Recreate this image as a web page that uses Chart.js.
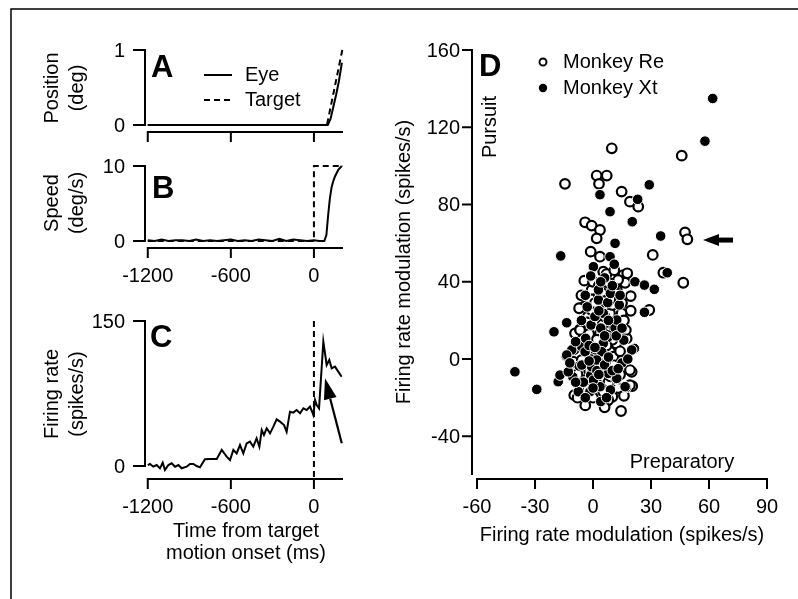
<!DOCTYPE html>
<html><head><meta charset="utf-8">
<script src="https://cdn.jsdelivr.net/npm/chart.js@4.4.0/dist/chart.umd.min.js"></script>
<style>
body{margin:0;background:#fff;width:798px;height:599px;overflow:hidden}
canvas{position:absolute;left:0;top:0}
</style>
</head><body>
<canvas id="cA" width="798" height="599"></canvas>
<canvas id="cB" width="798" height="599"></canvas>
<canvas id="cC" width="798" height="599"></canvas>
<canvas id="cD" width="798" height="599"></canvas>
<script>
// ---------- data ----------
const timeTicks = [-1200, -600, 0];
const posTicks = [0, 1];
const speedTicks = [0, 10];
const rateTicks = [0, 150];
const modXTicks = [-60, -30, 0, 30, 60, 90];
const modYTicks = [-40, 0, 40, 80, 120, 160];

const eyePosTime = [-1200, 100, 120, 140, 160, 180, 202];
const eyePos     = [0, 0, 0.08, 0.24, 0.4, 0.58, 0.83];
const tgtPosTime = [-1200, 94, 205];
const tgtPos     = [0, 0, 1.0];

const eyeSpdTime = [-1200,-1150,-1100,-1050,-1000,-950,-900,-850,-800,-750,-700,-650,-600,-550,-500,-450,-400,-350,-300,-250,-200,-150,-100,-50,0,40,75,90,104,116,128,140,152,176,201];
const eyeSpd     = [0.1,0,0.2,0,0.1,0.1,0,0.2,0,0.1,0,0.1,0.2,0,0.1,0,0.2,0.1,0,0.3,0,0.2,0.1,0,0.1,0,0,0.8,3.7,5.8,7.2,8.0,8.6,9.5,10];
const tgtSpdTime = [-1200, 0, 0, 210];
const tgtSpd     = [0, 0, 10, 10];

const rateTime = [-1200,-1184,-1160,-1136,-1112,-1092,-1076,-1051,-1027,-1003,-979,-955,-919,-895,-871,-847,-823,-787,-751,-702,-666,-630,-606,-582,-558,-534,-510,-486,-462,-438,-414,-394,-377,-361,-341,-317,-293,-269,-245,-216,-197,-173,-149,-125,-100,-76,-52,-28,-4,8,20,37,68,92,111,128,152,176,200];
const rate     = [1,2.1,-0.7,1.0,-2.4,3.4,-4.1,1.0,2.8,-0.7,1.0,-2.4,-0.7,2.1,2.1,0,-1.4,6.9,7.2,7.2,16.6,9.7,6.2,16.6,13.1,21.7,13.1,23.4,25.2,20,28.6,20,37.2,32.1,39,33.8,40.7,48.3,45.9,42.4,35.5,56.2,55.2,57.9,54.5,59.7,57.9,61.4,52.8,68.3,63.1,59.7,128.6,104.5,109.7,101,102.8,97.6,92.3];

const reX = [9.7,-14.5,1.9,7.1,3.1,14.8,19.1,23.4,45.9,-4.1,-0.7,3.6,1.9,47.6,48.8,30.9,-1.2,3.6,5.3,15.7,46.7,36.4,14.5,6.4,10,-9.7,-9.3,-6.7,-4.7,-7.2,-2.7,0.2,19.5,19.5,14.8,20,20.3,12.3,10,16.6,8.8,12.3,-8.4,-4.1,1.9,-1.6,0.2,8.8,13.1,3.6,-5,17.7,-4.5,7.9,11.4,-0.7,4.5,12.3,29.1,-0.7,2.8,8.8,14.8,-6.7,0.2,3.6,11.4,8.8,17.4,-1.6,1.9,8.8,-10.2,5.3,10.5,-5.8,7.9,19.1,19.1,10.5,5.3,-5,6.2,1.9,4,8,-2,2,6,10,-3,12,6,-8,0,3,7,-3,14,10,5,-2,16,0,-6,7,13,3,9,15,-3,6,11,-5,2,7,14,-8,0,4,9,13,-4,2,16,17,-10,1,11];
const reY = [109.1,90.7,95,95,90.7,86.7,81.5,78.9,105.3,70.8,69.1,66.8,62.5,65.6,62,53.9,55.6,53,45.2,43.5,39.5,44.7,-26.9,-22.6,-19.5,-18.7,13.3,15.3,27.1,26.3,21.9,34,32.6,25,-0.9,-6.6,-14,-3.6,0.4,39.5,39.2,35.8,-4.8,-10.9,-17.8,31.4,11.6,5.5,21.1,-0.5,-2.2,44.4,40.6,39.5,38.9,35.8,34.4,34,25.4,25.4,27.1,23.6,23.6,15,15,13.3,13.3,16.7,10.7,9,4.7,3.8,-1.4,-1.4,1.2,-0.5,-21.2,-13.5,-5.7,-3.1,-16.9,-12.6,-1.4,-7.4,-10,-12,-6,20,30,28,4,8,-25,-20,-20,-4,-6,-15,-8,10,18,13,20,40,33,44,41,38,31,29,19,22,17,8,10,7,4,-8,-2,2,-9,-15,-24,-13,-19,15,5,29,46];
const xtX = [61.9,57.9,29.1,3.6,23.1,8.8,20.3,35,11.4,-16.7,8.8,11,0.2,-1.2,21.7,26.6,31.7,38.4,-40.4,-29.1,-20.2,-13.6,-18,-17.1,-14,-10.5,-11,-5.8,-7.2,-7.1,-1,-1.2,-0.3,-1,-3.8,2.8,7.6,13.6,11.4,7.6,15.9,21.4,11.9,17.1,26.6,3.6,2.8,5.3,12.3,5.3,-13.6,-12.8,-5.8,-4.1,0.2,4.5,7.9,12.3,16.6,-1.6,-7.6,-0.7,1.9,20,2,6,9,-4,4,9,-3,6,14,1,-9,10,15,4,-2,-6,3,8,12,-2,6,1,-5,8,13,0,-9,10,4,-4,7,18,-12,3,15];
const xtY = [134.9,112.8,90.2,85.1,82.7,76.3,71.1,63.7,59.9,53.4,53,49.1,47.8,43,40,38.3,36.1,44.7,-6.6,-15.7,14.1,18.8,-11.7,-8.3,1.6,-9.2,4.7,6.4,-3.6,-16.1,0,-8.3,-12.3,17.6,10.7,30.6,29.2,28,16.2,11.2,9.8,5.5,-10.5,-14.7,24.2,-14.3,35.8,23.7,20.2,8.1,2.1,-6.6,-3.1,3.8,-10.9,3.8,-7.4,-10,-14.3,-16.9,-16.9,-4,-0.5,4.7,-6,-3,-16,-20,16,34,27,42,33,22,9,-6,-2,-22,7,20,25,20,12,-1,12,6,-12,1,-5,-15,-12,38,40,33,-20,0,-2,-8,16];

// ---------- helpers ----------
const FONT = '"Liberation Sans", Arial, Helvetica, sans-serif';
const zip = (xs, ys) => xs.map((x, i) => ({x: x, y: ys[i]}));

function axesPlugin(spec) {
  return {
    id: 'panelAxes',
    afterDraw(chart) {
      const ctx = chart.ctx, xs = chart.scales.x, ys = chart.scales.y, a = chart.chartArea;
      ctx.save();
      ctx.strokeStyle = '#000'; ctx.fillStyle = '#000'; ctx.lineWidth = 2; ctx.lineCap = 'butt';
      if (spec.frame) {
        ctx.lineWidth = 1.5;
        ctx.beginPath(); ctx.moveTo(11, 599); ctx.lineTo(11, 9); ctx.lineTo(798, 9); ctx.stroke();
        ctx.lineWidth = 2;
      }
      const ax = a.left, ay = a.bottom;
      ctx.beginPath();
      ctx.moveTo(ax, ys.getPixelForValue(spec.yFrom)); ctx.lineTo(ax, ys.getPixelForValue(spec.yTo) - 1);
      spec.yTicks.forEach(v => { const p = ys.getPixelForValue(v); ctx.moveTo(ax - spec.yTickLen, p); ctx.lineTo(ax + 1, p); });
      ctx.moveTo(xs.getPixelForValue(spec.xFrom), ay); ctx.lineTo(xs.getPixelForValue(spec.xTo), ay);
      spec.xTicks.forEach(v => { const p = xs.getPixelForValue(v); ctx.moveTo(p, ay - 1); ctx.lineTo(p, ay + 10); });
      ctx.stroke();
      ctx.font = '20px ' + FONT;
      ctx.textAlign = 'right'; ctx.textBaseline = 'middle';
      spec.yTicks.forEach(v => ctx.fillText(String(v), ax - spec.yLabelGap, ys.getPixelForValue(v) + 1));
      if (spec.xLabels) {
        ctx.textAlign = 'center';
        spec.xTicks.forEach(v => ctx.fillText(String(v), xs.getPixelForValue(v), ay + 28));
      }
      ctx.textAlign = 'center'; ctx.textBaseline = 'middle';
      spec.yTitle.forEach((t, i) => {
        ctx.save();
        ctx.translate(spec.yTitleX[i], spec.yTitleY);
        ctx.rotate(-Math.PI / 2);
        ctx.fillText(t, 0, 0);
        ctx.restore();
      });
      if (spec.xTitle) {
        spec.xTitle.forEach((t, i) => ctx.fillText(t, spec.xTitleX, spec.xTitleY[i]));
      }
      ctx.font = 'bold 31px ' + FONT;
      ctx.textAlign = 'left'; ctx.textBaseline = 'alphabetic';
      ctx.fillText(spec.letter, spec.letterX, spec.letterY);
      if (spec.extra) spec.extra(chart, ctx);
      ctx.restore();
    }
  };
}

function baseOptions(pad, xmin, xmax, ymin, ymax) {
  return {
    responsive: false, animation: false, events: [],
    devicePixelRatio: 1,
    layout: {padding: pad},
    plugins: {legend: {display: false}, tooltip: {enabled: false}},
    scales: {
      x: {type: 'linear', display: false, min: xmin, max: xmax},
      y: {type: 'linear', display: false, min: ymin, max: ymax}
    }
  };
}

function lineLegend(chart, ctx, x0, ys) {
  ctx.font = '20px ' + FONT;
  ctx.textAlign = 'left'; ctx.textBaseline = 'middle';
  chart.data.datasets.forEach((ds, i) => {
    ctx.save();
    ctx.lineWidth = 2;
    ctx.setLineDash(ds.borderDash || []);
    ctx.beginPath(); ctx.moveTo(x0, ys[i]); ctx.lineTo(x0 + 28, ys[i]); ctx.stroke();
    ctx.restore();
    ctx.fillText(ds.label, x0 + 41, ys[i]);
  });
}

const W = 798, H = 599;
// ---------- Panel A ----------
new Chart(document.getElementById('cA'), {
  type: 'line',
  data: {datasets: [
    {label: 'Eye', data: zip(eyePosTime, eyePos), borderColor: '#000', borderWidth: 2, pointRadius: 0, tension: 0, clip: false},
    {label: 'Target', data: zip(tgtPosTime, tgtPos), borderColor: '#000', borderWidth: 2, borderDash: [6, 4], pointRadius: 0, tension: 0, clip: false}
  ]},
  options: baseOptions({left: 145, top: 50, right: W - 343, bottom: H - 132}, -1220, 210, -0.093, 1),
  plugins: [axesPlugin({
    frame: true,
    yFrom: 0, yTo: 1, yTicks: posTicks, yTickLen: 12, yLabelGap: 20,
    xFrom: -1200, xTo: 210, xTicks: timeTicks, xLabels: false,
    yTitle: ['Position', '(deg)'], yTitleX: [52, 77], yTitleY: 88,
    letter: 'A', letterX: 151, letterY: 77,
    extra: (chart, ctx) => lineLegend(chart, ctx, 204, [75, 100])
  })]
});

// ---------- Panel B ----------
new Chart(document.getElementById('cB'), {
  type: 'line',
  data: {datasets: [
    {label: 'Eye', data: zip(eyeSpdTime, eyeSpd), borderColor: '#000', borderWidth: 2, pointRadius: 0, tension: 0, clip: false},
    {label: 'Target', data: zip(tgtSpdTime, tgtSpd), borderColor: '#000', borderWidth: 2, borderDash: [6, 4], pointRadius: 0, tension: 0, clip: false}
  ]},
  options: baseOptions({left: 145, top: 166, right: W - 343, bottom: H - 248}, -1220, 210, -0.93, 10),
  plugins: [axesPlugin({
    yFrom: 0, yTo: 10, yTicks: speedTicks, yTickLen: 12, yLabelGap: 20,
    xFrom: -1200, xTo: 210, xTicks: timeTicks, xLabels: true,
    yTitle: ['Speed', '(deg/s)'], yTitleX: [52, 77], yTitleY: 203,
    letter: 'B', letterX: 152, letterY: 198
  })]
});

// ---------- Panel C ----------
new Chart(document.getElementById('cC'), {
  type: 'line',
  data: {datasets: [
    {label: 'Firing rate', data: zip(rateTime, rate), borderColor: '#000', borderWidth: 2, pointRadius: 0, tension: 0, clip: false}
  ]},
  options: baseOptions({left: 145, top: 321, right: W - 343, bottom: H - 479}, -1220, 210, -13.45, 150),
  plugins: [axesPlugin({
    yFrom: 0, yTo: 150, yTicks: rateTicks, yTickLen: 12, yLabelGap: 20,
    xFrom: -1200, xTo: 210, xTicks: timeTicks, xLabels: true,
    yTitle: ['Firing rate', '(spikes/s)'], yTitleX: [52, 77], yTitleY: 394,
    xTitle: ['Time from target', 'motion onset (ms)'], xTitleX: 246, xTitleY: [531, 553],
    letter: 'C', letterX: 150, letterY: 347,
    extra: (chart, ctx) => {
      const xs = chart.scales.x, ys = chart.scales.y;
      ctx.save();
      ctx.lineWidth = 2; ctx.setLineDash([6, 4]);
      const x0 = xs.getPixelForValue(0);
      ctx.beginPath(); ctx.moveTo(x0, ys.getPixelForValue(150)); ctx.lineTo(x0, chart.chartArea.bottom); ctx.stroke();
      ctx.restore();
      const tx = xs.getPixelForValue(201), ty = ys.getPixelForValue(23.5);
      const hx = xs.getPixelForValue(80), hy = ys.getPixelForValue(90.7);
      const ang = Math.atan2(hy - ty, hx - tx), L = 21, hw = 6.5;
      const bx = hx - L * Math.cos(ang), by = hy - L * Math.sin(ang);
      ctx.lineWidth = 2.2;
      ctx.beginPath(); ctx.moveTo(tx, ty); ctx.lineTo(bx, by); ctx.stroke();
      ctx.beginPath(); ctx.moveTo(hx, hy);
      ctx.lineTo(bx + hw * Math.sin(ang), by - hw * Math.cos(ang));
      ctx.lineTo(bx - hw * Math.sin(ang), by + hw * Math.cos(ang));
      ctx.closePath(); ctx.fill();
    }
  })]
});

// ---------- Panel D ----------
new Chart(document.getElementById('cD'), {
  type: 'scatter',
  data: {datasets: [
    {label: 'Monkey Re', data: zip(reX, reY), pointRadius: 4.8, pointBorderWidth: 2.2, pointBorderColor: '#000', pointBackgroundColor: '#fff', order: 2, clip: false},
    {label: 'Monkey Xt', data: zip(xtX, xtY), pointRadius: 5.3, pointBorderWidth: 1, pointBorderColor: '#fff', pointBackgroundColor: '#000', order: 1, clip: false}
  ]},
  options: baseOptions({left: 472, top: 50, right: W - 767, bottom: H - 479}, -62.6, 90, -62.1, 160),
  plugins: [axesPlugin({
    yFrom: -60, yTo: 160, yTicks: modYTicks, yTickLen: 10, yLabelGap: 12,
    xFrom: -60, xTo: 90, xTicks: modXTicks, xLabels: true,
    yTitle: ['Firing rate modulation (spikes/s)'], yTitleX: [404], yTitleY: 262,
    xTitle: ['Firing rate modulation (spikes/s)'], xTitleX: 622, xTitleY: [535],
    letter: 'D', letterX: 479, letterY: 76,
    extra: (chart, ctx) => {
      const xs = chart.scales.x, ys = chart.scales.y;
      ctx.font = '20px ' + FONT;
      ctx.textAlign = 'left'; ctx.textBaseline = 'middle';
      const lys = [62, 88];
      chart.data.datasets.forEach((ds, i) => {
        ctx.beginPath(); ctx.arc(543, lys[i], i === 0 ? 3.5 : 4.2, 0, Math.PI * 2);
        if (i === 0) { ctx.lineWidth = 1.9; ctx.stroke(); } else { ctx.fill(); }
        ctx.fillText(ds.label, 563, lys[i]);
      });
      ctx.textAlign = 'center';
      ctx.save(); ctx.translate(490, 127); ctx.rotate(-Math.PI / 2); ctx.fillText('Pursuit', 0, 0); ctx.restore();
      ctx.fillText('Preparatory', 682, 462);
      const y = ys.getPixelForValue(61.6);
      const tip = xs.getPixelForValue(56.9), tail = xs.getPixelForValue(72.4);
      ctx.lineWidth = 5;
      ctx.beginPath(); ctx.moveTo(tail, y); ctx.lineTo(tip + 14, y); ctx.stroke();
      ctx.beginPath(); ctx.moveTo(tip, y); ctx.lineTo(tip + 16, y - 6); ctx.lineTo(tip + 16, y + 6); ctx.closePath(); ctx.fill();
    }
  })]
});
</script>
</body></html>
